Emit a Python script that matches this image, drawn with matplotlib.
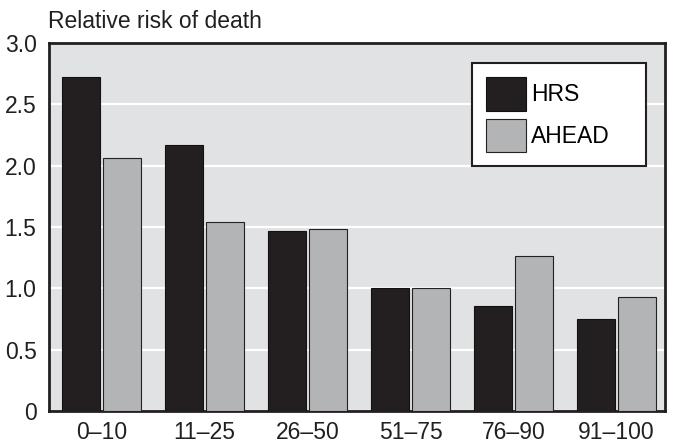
import numpy as np
import matplotlib.pyplot as plt

plt.rcParams['font.family'] = ['Liberation Sans', 'DejaVu Sans']

groups = ["0\u201310", "11\u201325", "26\u201350", "51\u201375", "76\u201390", "91\u2013100"]
hrs = [2.72, 2.17, 1.47, 1.00, 0.86, 0.75]
ahead = [2.06, 1.54, 1.48, 1.00, 1.26, 0.93]
yticks = [0, 0.5, 1.0, 1.5, 2.0, 2.5, 3.0]
ytick_labels = ["0", "0.5", "1.0", "1.5", "2.0", "2.5", "3.0"]

fig = plt.figure(figsize=(6.75, 4.44), dpi=100)
ax = fig.add_axes([49/675, 1 - 411/444, 616/675, 368/444])
ax.set_facecolor("#e1e2e4")

x = np.arange(len(groups))
w = 0.37
ax.bar(x - 0.197, hrs, w, color="#231f20", edgecolor="#111111", linewidth=0.8,
       label="HRS", zorder=3)
ax.bar(x + 0.197, ahead, w, color="#b3b4b6", edgecolor="#222222", linewidth=0.8,
       label="AHEAD", zorder=3)

ax.set_xlim(-0.51, 5.47)
ax.set_ylim(0, 3.0)
ax.set_yticks(yticks)
ax.set_yticklabels(ytick_labels)
ax.set_xticks(x)
ax.set_xticklabels(groups)
ax.tick_params(axis="both", length=0, labelsize=16.5, colors="#231f20")
ax.tick_params(axis="y", pad=9)
ax.tick_params(axis="x", pad=7)

for v in yticks[1:-1]:
    ax.axhline(v, color="white", linewidth=1.6, zorder=1)

for s in ax.spines.values():
    s.set_linewidth(2.0)
    s.set_color("#231f20")

leg = ax.legend(loc="upper left", bbox_to_anchor=(0.687, 0.668, 0.282, 0.278),
                mode="expand", fontsize=16.5, handlelength=1.75, handleheight=1.9,
                handletextpad=0.2, labelspacing=0.35, borderpad=0.6,
                borderaxespad=0, fancybox=False, framealpha=1)
leg.get_frame().set_edgecolor("#231f20")
leg.get_frame().set_linewidth(1.5)

fig.text(48/675, 1 - 28/444, "Relative risk of death", fontsize=16.5,
         color="#231f20", ha="left", va="baseline")

fig.savefig("out.png", dpi=100)
